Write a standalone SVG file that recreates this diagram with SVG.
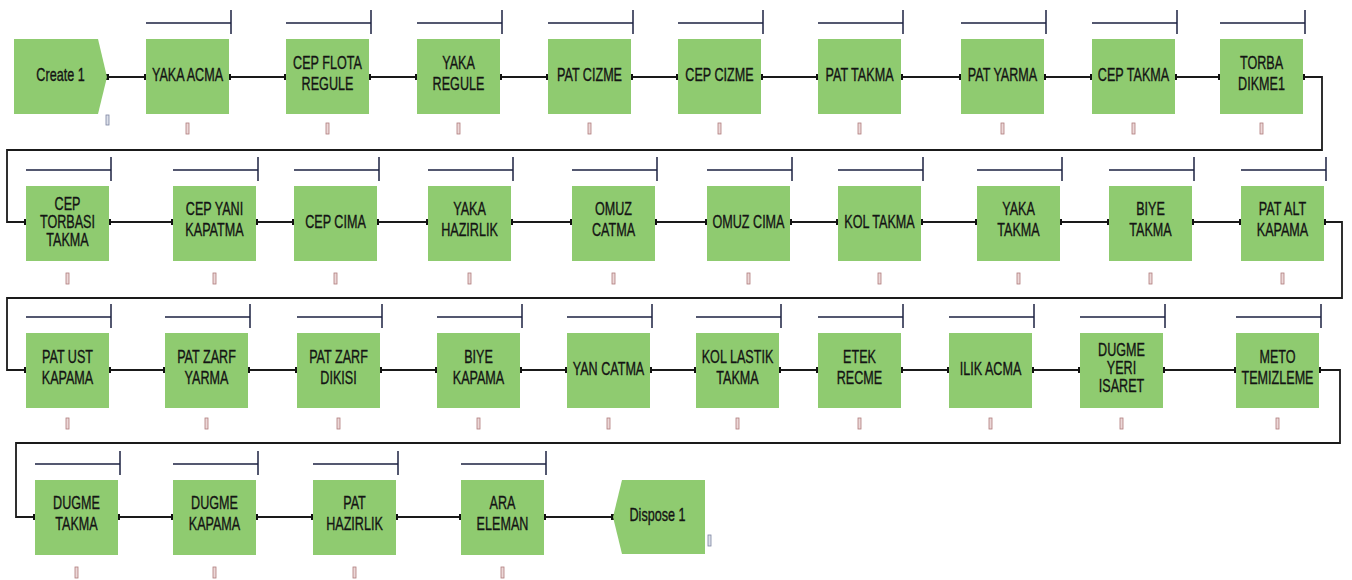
<svg xmlns="http://www.w3.org/2000/svg" width="1352" height="580" viewBox="0 0 1352 580">
<style>
.box{fill:#8fcb70;}
.lbl{font-family:"Liberation Sans",Arial,sans-serif;font-size:18px;fill:#141414;stroke:#141414;stroke-width:0.35;text-anchor:middle;}
.res{stroke:#1c2242;stroke-width:1.5;fill:none;}
.conn{stroke:#1a1a1a;stroke-width:1.8;fill:none;marker-start:url(#dot);marker-end:url(#dot);}
.q{fill:#ecd8d8;stroke:#b07c7c;stroke-width:0.8;}
.qb{fill:#dde0ea;stroke:#7c84a0;stroke-width:0.8;}
</style>
<defs>
<marker id="dot" viewBox="0 0 4 6" refX="2" refY="3" markerWidth="4" markerHeight="6" markerUnits="userSpaceOnUse" orient="auto"><rect x="0" y="0" width="4" height="6" fill="#111"/></marker>
</defs>
<rect width="1352" height="580" fill="#ffffff"/>

<g id="connectors">
<path class="conn" d="M107,77 H146"/>
<path class="conn" d="M229,77 H286"/>
<path class="conn" d="M369,77 H417"/>
<path class="conn" d="M500,77 H548"/>
<path class="conn" d="M631,77 H678"/>
<path class="conn" d="M761,77 H818"/>
<path class="conn" d="M901,77 H961"/>
<path class="conn" d="M1044,77 H1092"/>
<path class="conn" d="M1175,77 H1220"/>
<path class="conn" d="M1303,77 H1322 V150 H7 V222 H26"/>
<path class="conn" d="M109,222 H173"/>
<path class="conn" d="M256,222 H294"/>
<path class="conn" d="M377,222 H428"/>
<path class="conn" d="M511,222 H572"/>
<path class="conn" d="M655,222 H707"/>
<path class="conn" d="M790,222 H838"/>
<path class="conn" d="M921,222 H977"/>
<path class="conn" d="M1060,222 H1109"/>
<path class="conn" d="M1192,222 H1241"/>
<path class="conn" d="M1324,222 H1342 V298 H7 V370 H26"/>
<path class="conn" d="M109,370 H165"/>
<path class="conn" d="M248,370 H297"/>
<path class="conn" d="M380,370 H437"/>
<path class="conn" d="M520,370 H567"/>
<path class="conn" d="M650,370 H696"/>
<path class="conn" d="M779,370 H818"/>
<path class="conn" d="M901,370 H949"/>
<path class="conn" d="M1032,370 H1080"/>
<path class="conn" d="M1163,370 H1236"/>
<path class="conn" d="M1319,370 H1340 V443 H16 V517 H35"/>
<path class="conn" d="M118,517 H173"/>
<path class="conn" d="M256,517 H313"/>
<path class="conn" d="M396,517 H461"/>
<path class="conn" d="M544,517 H613"/>
</g>

<g id="create-1">
<polygon class="box" points="14,39 98,39 107,77 98,114 14,114"/>
<text class="lbl" transform="translate(60.5,76.5) scale(0.7 1)"><tspan x="0" y="4.5">Create 1</tspan></text>
<rect class="qb" x="106" y="115" width="3" height="10"/>
</g>

<g id="yaka-acma">
<path class="res" d="M146,23 H231 M231,10 V34"/>
<rect class="box" x="146" y="39" width="83" height="75"/>
<text class="lbl" transform="translate(187.5,76.5) scale(0.7 1)"><tspan x="0" y="4.5">YAKA ACMA</tspan></text>
<rect class="q" x="186" y="123" width="3" height="11"/>
</g>
<g id="cep-flota-regule">
<path class="res" d="M286,23 H371 M371,10 V34"/>
<rect class="box" x="286" y="39" width="83" height="75"/>
<text class="lbl" transform="translate(327.5,76.5) scale(0.7 1)"><tspan x="0" y="-8">CEP FLOTA</tspan><tspan x="0" y="13">REGULE</tspan></text>
<rect class="q" x="326" y="123" width="3" height="11"/>
</g>
<g id="yaka-regule">
<path class="res" d="M417,23 H502 M502,10 V34"/>
<rect class="box" x="417" y="39" width="83" height="75"/>
<text class="lbl" transform="translate(458.5,76.5) scale(0.7 1)"><tspan x="0" y="-8">YAKA</tspan><tspan x="0" y="13">REGULE</tspan></text>
<rect class="q" x="457" y="123" width="3" height="11"/>
</g>
<g id="pat-cizme">
<path class="res" d="M548,23 H633 M633,10 V34"/>
<rect class="box" x="548" y="39" width="83" height="75"/>
<text class="lbl" transform="translate(589.5,76.5) scale(0.7 1)"><tspan x="0" y="4.5">PAT CIZME</tspan></text>
<rect class="q" x="588" y="123" width="3" height="11"/>
</g>
<g id="cep-cizme">
<path class="res" d="M678,23 H763 M763,10 V34"/>
<rect class="box" x="678" y="39" width="83" height="75"/>
<text class="lbl" transform="translate(719.5,76.5) scale(0.7 1)"><tspan x="0" y="4.5">CEP CIZME</tspan></text>
<rect class="q" x="718" y="123" width="3" height="11"/>
</g>
<g id="pat-takma">
<path class="res" d="M818,23 H903 M903,10 V34"/>
<rect class="box" x="818" y="39" width="83" height="75"/>
<text class="lbl" transform="translate(859.5,76.5) scale(0.7 1)"><tspan x="0" y="4.5">PAT TAKMA</tspan></text>
<rect class="q" x="858" y="123" width="3" height="11"/>
</g>
<g id="pat-yarma">
<path class="res" d="M961,23 H1046 M1046,10 V34"/>
<rect class="box" x="961" y="39" width="83" height="75"/>
<text class="lbl" transform="translate(1002.5,76.5) scale(0.7 1)"><tspan x="0" y="4.5">PAT YARMA</tspan></text>
<rect class="q" x="1001" y="123" width="3" height="11"/>
</g>
<g id="cep-takma">
<path class="res" d="M1092,23 H1177 M1177,10 V34"/>
<rect class="box" x="1092" y="39" width="83" height="75"/>
<text class="lbl" transform="translate(1133.5,76.5) scale(0.7 1)"><tspan x="0" y="4.5">CEP TAKMA</tspan></text>
<rect class="q" x="1132" y="123" width="3" height="11"/>
</g>
<g id="torba-dikme1">
<path class="res" d="M1220,23 H1305 M1305,10 V34"/>
<rect class="box" x="1220" y="39" width="83" height="75"/>
<text class="lbl" transform="translate(1261.5,76.5) scale(0.7 1)"><tspan x="0" y="-8">TORBA</tspan><tspan x="0" y="13">DIKME1</tspan></text>
<rect class="q" x="1260" y="123" width="3" height="11"/>
</g>

<g id="cep-torbasi-takma">
<path class="res" d="M26,170 H111 M111,157 V181"/>
<rect class="box" x="26" y="186" width="83" height="75"/>
<text class="lbl" transform="translate(67.5,223) scale(0.7 1)"><tspan x="0" y="-13.5">CEP</tspan><tspan x="0" y="5">TORBASI</tspan><tspan x="0" y="23.5">TAKMA</tspan></text>
<rect class="q" x="66" y="273" width="3" height="11"/>
</g>
<g id="cep-yani-kapatma">
<path class="res" d="M173,170 H258 M258,157 V181"/>
<rect class="box" x="173" y="186" width="83" height="75"/>
<text class="lbl" transform="translate(214.5,223) scale(0.7 1)"><tspan x="0" y="-8">CEP YANI</tspan><tspan x="0" y="13">KAPATMA</tspan></text>
<rect class="q" x="213" y="273" width="3" height="11"/>
</g>
<g id="cep-cima">
<path class="res" d="M294,170 H379 M379,157 V181"/>
<rect class="box" x="294" y="186" width="83" height="75"/>
<text class="lbl" transform="translate(335.5,223) scale(0.7 1)"><tspan x="0" y="4.5">CEP CIMA</tspan></text>
<rect class="q" x="334" y="273" width="3" height="11"/>
</g>
<g id="yaka-hazirlik">
<path class="res" d="M428,170 H513 M513,157 V181"/>
<rect class="box" x="428" y="186" width="83" height="75"/>
<text class="lbl" transform="translate(469.5,223) scale(0.7 1)"><tspan x="0" y="-8">YAKA</tspan><tspan x="0" y="13">HAZIRLIK</tspan></text>
<rect class="q" x="468" y="273" width="3" height="11"/>
</g>
<g id="omuz-catma">
<path class="res" d="M572,170 H657 M657,157 V181"/>
<rect class="box" x="572" y="186" width="83" height="75"/>
<text class="lbl" transform="translate(613.5,223) scale(0.7 1)"><tspan x="0" y="-8">OMUZ</tspan><tspan x="0" y="13">CATMA</tspan></text>
<rect class="q" x="612" y="273" width="3" height="11"/>
</g>
<g id="omuz-cima">
<path class="res" d="M707,170 H792 M792,157 V181"/>
<rect class="box" x="707" y="186" width="83" height="75"/>
<text class="lbl" transform="translate(748.5,223) scale(0.7 1)"><tspan x="0" y="4.5">OMUZ CIMA</tspan></text>
<rect class="q" x="747" y="273" width="3" height="11"/>
</g>
<g id="kol-takma">
<path class="res" d="M838,170 H923 M923,157 V181"/>
<rect class="box" x="838" y="186" width="83" height="75"/>
<text class="lbl" transform="translate(879.5,223) scale(0.7 1)"><tspan x="0" y="4.5">KOL TAKMA</tspan></text>
<rect class="q" x="878" y="273" width="3" height="11"/>
</g>
<g id="yaka-takma">
<path class="res" d="M977,170 H1062 M1062,157 V181"/>
<rect class="box" x="977" y="186" width="83" height="75"/>
<text class="lbl" transform="translate(1018.5,223) scale(0.7 1)"><tspan x="0" y="-8">YAKA</tspan><tspan x="0" y="13">TAKMA</tspan></text>
<rect class="q" x="1017" y="273" width="3" height="11"/>
</g>
<g id="biye-takma">
<path class="res" d="M1109,170 H1194 M1194,157 V181"/>
<rect class="box" x="1109" y="186" width="83" height="75"/>
<text class="lbl" transform="translate(1150.5,223) scale(0.7 1)"><tspan x="0" y="-8">BIYE</tspan><tspan x="0" y="13">TAKMA</tspan></text>
<rect class="q" x="1149" y="273" width="3" height="11"/>
</g>
<g id="pat-alt-kapama">
<path class="res" d="M1241,170 H1326 M1326,157 V181"/>
<rect class="box" x="1241" y="186" width="83" height="75"/>
<text class="lbl" transform="translate(1282.5,223) scale(0.7 1)"><tspan x="0" y="-8">PAT ALT</tspan><tspan x="0" y="13">KAPAMA</tspan></text>
<rect class="q" x="1281" y="273" width="3" height="11"/>
</g>

<g id="pat-ust-kapama">
<path class="res" d="M26,317 H111 M111,304 V328"/>
<rect class="box" x="26" y="333" width="83" height="75"/>
<text class="lbl" transform="translate(67.5,370.5) scale(0.7 1)"><tspan x="0" y="-8">PAT UST</tspan><tspan x="0" y="13">KAPAMA</tspan></text>
<rect class="q" x="66" y="418" width="3" height="11"/>
</g>
<g id="pat-zarf-yarma">
<path class="res" d="M165,317 H250 M250,304 V328"/>
<rect class="box" x="165" y="333" width="83" height="75"/>
<text class="lbl" transform="translate(206.5,370.5) scale(0.7 1)"><tspan x="0" y="-8">PAT ZARF</tspan><tspan x="0" y="13">YARMA</tspan></text>
<rect class="q" x="205" y="418" width="3" height="11"/>
</g>
<g id="pat-zarf-dikisi">
<path class="res" d="M297,317 H382 M382,304 V328"/>
<rect class="box" x="297" y="333" width="83" height="75"/>
<text class="lbl" transform="translate(338.5,370.5) scale(0.7 1)"><tspan x="0" y="-8">PAT ZARF</tspan><tspan x="0" y="13">DIKISI</tspan></text>
<rect class="q" x="337" y="418" width="3" height="11"/>
</g>
<g id="biye-kapama">
<path class="res" d="M437,317 H522 M522,304 V328"/>
<rect class="box" x="437" y="333" width="83" height="75"/>
<text class="lbl" transform="translate(478.5,370.5) scale(0.7 1)"><tspan x="0" y="-8">BIYE</tspan><tspan x="0" y="13">KAPAMA</tspan></text>
<rect class="q" x="477" y="418" width="3" height="11"/>
</g>
<g id="yan-catma">
<path class="res" d="M567,317 H652 M652,304 V328"/>
<rect class="box" x="567" y="333" width="83" height="75"/>
<text class="lbl" transform="translate(608.5,370.5) scale(0.7 1)"><tspan x="0" y="4.5">YAN CATMA</tspan></text>
<rect class="q" x="607" y="418" width="3" height="11"/>
</g>
<g id="kol-lastik-takma">
<path class="res" d="M696,317 H781 M781,304 V328"/>
<rect class="box" x="696" y="333" width="83" height="75"/>
<text class="lbl" transform="translate(737.5,370.5) scale(0.7 1)"><tspan x="0" y="-8">KOL LASTIK</tspan><tspan x="0" y="13">TAKMA</tspan></text>
<rect class="q" x="736" y="418" width="3" height="11"/>
</g>
<g id="etek-recme">
<path class="res" d="M818,317 H903 M903,304 V328"/>
<rect class="box" x="818" y="333" width="83" height="75"/>
<text class="lbl" transform="translate(859.5,370.5) scale(0.7 1)"><tspan x="0" y="-8">ETEK</tspan><tspan x="0" y="13">RECME</tspan></text>
<rect class="q" x="858" y="418" width="3" height="11"/>
</g>
<g id="ilik-acma">
<path class="res" d="M949,317 H1034 M1034,304 V328"/>
<rect class="box" x="949" y="333" width="83" height="75"/>
<text class="lbl" transform="translate(990.5,370.5) scale(0.7 1)"><tspan x="0" y="4.5">ILIK ACMA</tspan></text>
<rect class="q" x="989" y="418" width="3" height="11"/>
</g>
<g id="dugme-yeri-isaret">
<path class="res" d="M1080,317 H1165 M1165,304 V328"/>
<rect class="box" x="1080" y="333" width="83" height="75"/>
<text class="lbl" transform="translate(1121.5,370.5) scale(0.7 1)"><tspan x="0" y="-14.5">DUGME</tspan><tspan x="0" y="3.5">YERI</tspan><tspan x="0" y="21.5">ISARET</tspan></text>
<rect class="q" x="1120" y="418" width="3" height="11"/>
</g>
<g id="meto-temizleme">
<path class="res" d="M1236,317 H1321 M1321,304 V328"/>
<rect class="box" x="1236" y="333" width="83" height="75"/>
<text class="lbl" transform="translate(1277.5,370.5) scale(0.7 1)"><tspan x="0" y="-8">METO</tspan><tspan x="0" y="13">TEMIZLEME</tspan></text>
<rect class="q" x="1276" y="418" width="3" height="11"/>
</g>

<g id="dugme-takma">
<path class="res" d="M35,464 H120 M120,451 V475"/>
<rect class="box" x="35" y="480" width="83" height="75"/>
<text class="lbl" transform="translate(76.5,517) scale(0.7 1)"><tspan x="0" y="-8">DUGME</tspan><tspan x="0" y="13">TAKMA</tspan></text>
<rect class="q" x="75" y="567" width="3" height="11"/>
</g>
<g id="dugme-kapama">
<path class="res" d="M173,464 H258 M258,451 V475"/>
<rect class="box" x="173" y="480" width="83" height="75"/>
<text class="lbl" transform="translate(214.5,517) scale(0.7 1)"><tspan x="0" y="-8">DUGME</tspan><tspan x="0" y="13">KAPAMA</tspan></text>
<rect class="q" x="213" y="567" width="3" height="11"/>
</g>
<g id="pat-hazirlik">
<path class="res" d="M313,464 H398 M398,451 V475"/>
<rect class="box" x="313" y="480" width="83" height="75"/>
<text class="lbl" transform="translate(354.5,517) scale(0.7 1)"><tspan x="0" y="-8">PAT</tspan><tspan x="0" y="13">HAZIRLIK</tspan></text>
<rect class="q" x="353" y="567" width="3" height="11"/>
</g>
<g id="ara-eleman">
<path class="res" d="M461,464 H546 M546,451 V475"/>
<rect class="box" x="461" y="480" width="83" height="75"/>
<text class="lbl" transform="translate(502.5,517) scale(0.7 1)"><tspan x="0" y="-8">ARA</tspan><tspan x="0" y="13">ELEMAN</tspan></text>
<rect class="q" x="501" y="567" width="3" height="11"/>
</g>
<g id="dispose-1">
<polygon class="box" points="613,517 622,480 705,480 705,554 622,554"/>
<text class="lbl" transform="translate(657.5,514) scale(0.7 1)"><tspan x="0" y="6.5">Dispose 1</tspan></text>
<rect class="qb" x="708" y="535" width="3" height="11"/>
</g>
</svg>
